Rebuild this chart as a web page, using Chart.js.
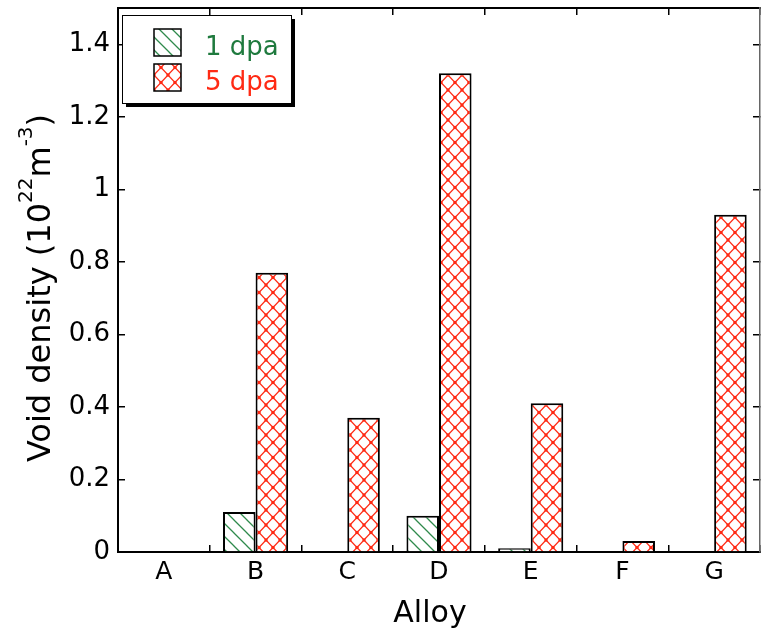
<!DOCTYPE html>
<html lang="en">
<head>
    <meta charset="UTF-8">
    <title>Void density by alloy</title>
    <script src="https://cdn.jsdelivr.net/npm/chart.js"></script>
    <style>
        body { margin: 0; background: #fff; }
        #wrap { width: 762px; height: 635px; }
    </style>
</head>
<body>
    <div id="wrap"><canvas id="voidChart" width="762" height="635"></canvas></div>

    <script>
        const alloys = ['A', 'B', 'C', 'D', 'E', 'F', 'G'];
        const dpa1 = [0, 0.11, 0, 0.10, 0.01, 0, 0];
        const dpa5 = [0, 0.77, 0.37, 1.32, 0.41, 0.03, 0.93];
        const seriesNames = ['1 dpa', '5 dpa'];
        const yTicks = [0, 0.2, 0.4, 0.6, 0.8, 1, 1.2, 1.4];

        const FONT = '"DejaVu Sans", "Liberation Sans", Arial, sans-serif';
        const GREEN = '#2f8a4c';
        const RED = '#ff2a14';

        // hatch fills
        function makeHatch() {
            const c = document.createElement('canvas');
            c.width = 13; c.height = 13;
            const g = c.getContext('2d');
            g.fillStyle = '#fff';
            g.fillRect(0, 0, 13, 13);
            g.strokeStyle = GREEN;
            g.lineWidth = 1.3;
            g.beginPath();
            g.moveTo(-2, -2); g.lineTo(15, 15);
            g.moveTo(-2, 11); g.lineTo(2, 15);
            g.moveTo(11, -2); g.lineTo(15, 2);
            g.stroke();
            return g.createPattern(c, 'repeat');
        }

        function makeCross() {
            const w = 14, h = 15;
            const c = document.createElement('canvas');
            c.width = w; c.height = h;
            const g = c.getContext('2d');
            g.fillStyle = '#fff';
            g.fillRect(0, 0, w, h);
            g.strokeStyle = RED;
            g.lineWidth = 1.2;
            g.beginPath();
            g.moveTo(0, 0); g.lineTo(w, h);
            g.moveTo(w, 0); g.lineTo(0, h);
            g.stroke();
            g.fillStyle = RED;
            [[0, 0], [w, 0], [0, h], [w, h], [w / 2, h / 2]].forEach(([x, y]) => {
                g.beginPath();
                g.arc(x, y, 1.7, 0, Math.PI * 2);
                g.fill();
            });
            return g.createPattern(c, 'repeat');
        }

        const fills = [makeHatch(), makeCross()];
        const textColors = ['#1f7a3e', RED];

        const tickFmt = v => String(+(+v).toFixed(1));

        // ticks point into the plot: negative tick length
        const inGrid = { drawOnChartArea: false, color: '#000', lineWidth: 1.5, tickLength: -7 };

        // fixed axis box sizes, no extra label padding
        const fixSize = (w, h) => s => {
            if (w !== null) s.width = w;
            if (h !== null) s.height = h;
            s.paddingTop = 0; s.paddingBottom = 0;
            s.paddingLeft = 0; s.paddingRight = 0;
        };

        // legend box in the upper left corner
        const legendBox = {
            id: 'legendBox',
            afterDraw(chart) {
                const ctx = chart.ctx;
                const x = 122, y = 15, w = 169, h = 88;
                ctx.save();
                ctx.fillStyle = '#000';
                ctx.fillRect(x + 4, y + 4, w, h);
                ctx.fillStyle = '#fff';
                ctx.fillRect(x, y, w, h);
                ctx.strokeStyle = '#000';
                ctx.lineWidth = 1;
                ctx.strokeRect(x + 0.5, y + 0.5, w, h);

                const rows = [29, 64];
                rows.forEach((ry, i) => {
                    ctx.fillStyle = fills[i];
                    ctx.fillRect(154, ry, 27, 27);
                    ctx.lineWidth = 1.5;
                    ctx.strokeStyle = '#000';
                    ctx.strokeRect(154, ry, 27, 27);
                    ctx.fillStyle = textColors[i];
                    ctx.font = '26px ' + FONT;
                    ctx.textAlign = 'left';
                    ctx.textBaseline = 'alphabetic';
                    ctx.fillText(seriesNames[i], 205, ry + 26);
                });
                ctx.restore();
            }
        };

        // axis titles, with superscripts on the unit
        const axisTitles = {
            id: 'axisTitles',
            afterDraw(chart) {
                const ctx = chart.ctx;
                ctx.save();
                ctx.fillStyle = '#000';
                ctx.textBaseline = 'alphabetic';
                ctx.textAlign = 'center';
                ctx.font = '30px ' + FONT;
                ctx.fillText('Alloy', 430, 622);

                const parts = [
                    { t: 'Void density (10', size: 32, rise: 0 },
                    { t: '22', size: 20, rise: 18 },
                    { t: 'm', size: 32, rise: 0 },
                    { t: '-3', size: 20, rise: 18 },
                    { t: ')', size: 32, rise: 0 }
                ];
                let total = 0;
                parts.forEach(p => {
                    ctx.font = p.size + 'px ' + FONT;
                    p.w = ctx.measureText(p.t).width;
                    total += p.w;
                });
                ctx.translate(50, 288);
                ctx.rotate(-Math.PI / 2);
                ctx.textAlign = 'left';
                let cx = -total / 2;
                parts.forEach(p => {
                    ctx.font = p.size + 'px ' + FONT;
                    ctx.fillText(p.t, cx, -p.rise);
                    cx += p.w;
                });
                ctx.restore();
            }
        };

        const ctx = document.getElementById('voidChart').getContext('2d');
        new Chart(ctx, {
            type: 'bar',
            data: {
                labels: alloys,
                datasets: [dpa1, dpa5].map((d, i) => ({
                    label: seriesNames[i],
                    data: d,
                    backgroundColor: fills[i],
                    borderColor: '#000',
                    borderWidth: 2,
                    barPercentage: 1,
                    categoryPercentage: 0.71
                }))
            },
            options: {
                responsive: false,
                animation: false,
                layout: { padding: 0 },
                plugins: {
                    legend: { display: false },
                    tooltip: { enabled: false }
                },
                scales: {
                    x: {
                        type: 'category',
                        position: 'bottom',
                        offset: true,
                        grid: { ...inGrid, offset: true },
                        border: { color: '#000', width: 2 },
                        ticks: { color: '#000', padding: 12, font: { family: FONT, size: 25 } },
                        afterFit: fixSize(null, 83)
                    },
                    xTop: {
                        type: 'category',
                        position: 'top',
                        offset: true,
                        grid: { ...inGrid, offset: true },
                        border: { color: '#000', width: 2 },
                        ticks: { display: false },
                        afterFit: fixSize(null, 8)
                    },
                    y: {
                        position: 'left',
                        min: 0,
                        max: 1.5,
                        grid: inGrid,
                        border: { color: '#000', width: 2 },
                        afterBuildTicks: s => { s.ticks = yTicks.map(v => ({ value: v })); },
                        ticks: {
                            color: '#000',
                            padding: 15,
                            font: { family: FONT, size: 26 },
                            callback: tickFmt
                        },
                        afterFit: fixSize(118, null)
                    },
                    yRight: {
                        position: 'right',
                        min: 0,
                        max: 1.5,
                        grid: inGrid,
                        border: { color: '#666', width: 1.5 },
                        afterBuildTicks: s => { s.ticks = yTicks.map(v => ({ value: v })); },
                        ticks: { display: false },
                        afterFit: fixSize(2, null)
                    }
                }
            },
            plugins: [legendBox, axisTitles]
        });
    </script>
</body>
</html>
